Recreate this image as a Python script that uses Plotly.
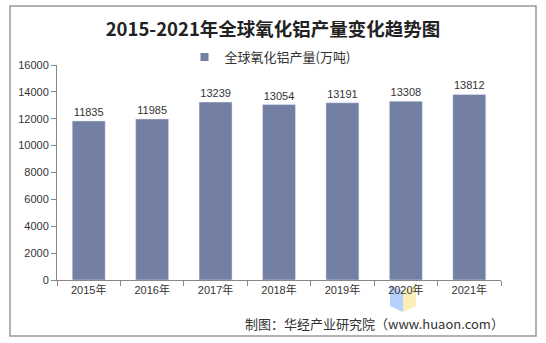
import plotly.graph_objects as go

years = ["2015年", "2016年", "2017年", "2018年", "2019年", "2020年", "2021年"]
values = [11835, 11985, 13239, 13054, 13191, 13308, 13812]
series_name = "全球氧化铝产量(万吨)"
y_ticks = [0, 2000, 4000, 6000, 8000, 10000, 12000, 14000, 16000]

W, H = 546, 343
ml, mr, mt, mb = 57, 45, 65, 63
pw, ph = W - ml - mr, H - mt - mb

def px(x):
    return (x - ml) / pw

def py(y):
    return (H - mb - y) / ph

font_main = "Liberation Sans, Noto Sans CJK SC, sans-serif"
bar_color = "#737fa3"

fig = go.Figure()
fig.add_trace(go.Bar(
    x=years, y=values, name=series_name,
    marker_color=bar_color, width=0.52,
    text=[str(v) for v in values], textposition="outside",
    textfont=dict(size=11, color="#333333", family=font_main),
    cliponaxis=False, showlegend=False,
))
# legend entry with small square marker
fig.add_trace(go.Scatter(
    x=[None], y=[None], mode="markers", name=series_name,
    marker=dict(symbol="square", size=8, color=bar_color), showlegend=True,
))

fig.update_layout(
    width=W, height=H,
    margin=dict(l=ml, r=mr, t=mt, b=mb),
    paper_bgcolor="white", plot_bgcolor="white",
    font=dict(family=font_main, color="#333333"),
    title=dict(text="<b>2015-2021年全球氧化铝产量变化趋势图</b>",
               x=0.5, xanchor="center", y=1 - 30 / H, yanchor="middle",
               font=dict(size=18.5, color="#222222", family="Noto Sans CJK SC, serif")),
    legend=dict(orientation="h", x=px(270), xanchor="center", y=py(57), yanchor="middle",
                font=dict(size=13, color="#333333", family="Noto Sans CJK SC, sans-serif"),
                itemwidth=30, bgcolor="rgba(0,0,0,0)"),
    xaxis=dict(showline=True, linecolor="#888888", linewidth=1,
               ticks="outside", tickson="boundaries", ticklen=5, tickcolor="#888888",
               tickfont=dict(size=11, color="#333333", family=font_main),
               showgrid=False),
    yaxis=dict(range=[0, 16000], tickvals=y_ticks, ticktext=[str(v) for v in y_ticks],
               showline=True, linecolor="#888888",
               linewidth=1, ticks="outside", ticklen=5, tickcolor="#888888",
               tickfont=dict(size=11, color="#333333", family=font_main),
               showgrid=False, zeroline=False),
)

# outer border
fig.add_shape(type="rect", xref="paper", yref="paper",
              x0=px(10), x1=px(536), y0=py(336), y1=py(6),
              line=dict(color="#999999", width=1.5), layer="below")

# watermark logo shapes
fig.add_shape(type="path", xref="paper", yref="paper",
              path=f"M {px(390)} {py(285)} L {px(403)} {py(291)} L {px(403)} {py(312)} L {px(390)} {py(306)} Z",
              fillcolor="rgba(150,190,250,0.7)", line=dict(width=0), layer="below")
fig.add_shape(type="path", xref="paper", yref="paper",
              path=f"M {px(403)} {py(291)} L {px(416)} {py(285)} L {px(416)} {py(306)} L {px(403)} {py(312)} Z",
              fillcolor="rgba(250,230,150,0.7)", line=dict(width=0), layer="below")

# source
fig.add_annotation(text="制图：华经产业研究院（www.huaon.com）", xref="paper", yref="paper",
                   x=px(506), xanchor="right", y=py(323), yanchor="middle", showarrow=False,
                   font=dict(size=13, color="#333333", family="Noto Sans CJK SC, sans-serif"))

fig.write_html("out.html")
